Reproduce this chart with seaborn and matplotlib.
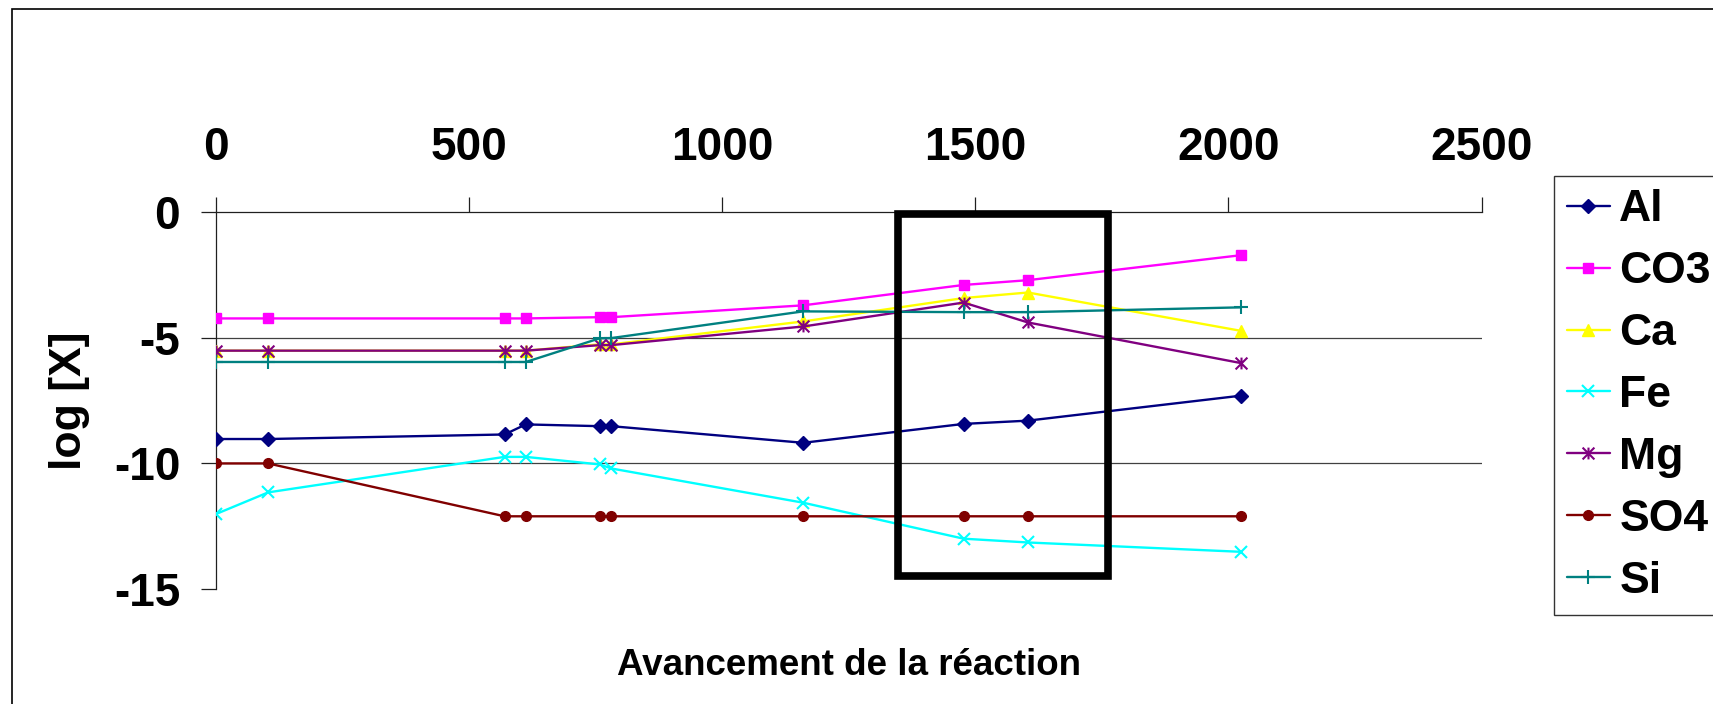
import matplotlib
matplotlib.use("Agg")
import matplotlib.pyplot as plt
import seaborn as sns
import pandas as pd
from matplotlib.path import Path
from matplotlib.patches import Rectangle

# Reaction progress (x) and log concentrations of each species
avancement = [0, 103, 570, 612, 758, 781, 1160, 1477, 1604, 2024]

log_al = [-9.03, -9.03, -8.85, -8.45, -8.52, -8.52, -9.18, -8.43, -8.30, -7.31]
log_co3 = [-4.24, -4.24, -4.24, -4.24, -4.19, -4.19, -3.72, -2.91, -2.72, -1.73]
log_ca = [-5.52, -5.52, -5.52, -5.52, -5.27, -5.27, -4.36, -3.43, -3.21, -4.73]
log_fe = [-12.01, -11.15, -9.74, -9.74, -10.04, -10.20, -11.56, -12.99, -13.14, -13.51]
log_mg = [-5.52, -5.52, -5.52, -5.52, -5.30, -5.30, -4.56, -3.61, -4.40, -6.01]
log_so4 = [-10.0, -10.0, -12.1, -12.1, -12.1, -12.1, -12.1, -12.1, -12.1, -12.1]
log_si = [-5.97, -5.97, -5.97, -5.97, -5.03, -5.02, -3.96, -3.99, -3.99, -3.80]

species = ["Al", "CO3", "Ca", "Fe", "Mg", "SO4", "Si"]
series = [log_al, log_co3, log_ca, log_fe, log_mg, log_so4, log_si]

x_ticks = [0, 500, 1000, 1500, 2000, 2500]
y_ticks = [-15, -10, -5, 0]

# Highlighted zone of the reaction path
zone_x = [1348, 1763]
zone_y = [-14.49, -0.09]

# Excel-style asterisk marker: an X crossed by a vertical bar
star = Path([(-1, -1), (1, 1), (-1, 1), (1, -1), (0, -1), (0, 1)],
            [Path.MOVETO, Path.LINETO] * 3)

styles = {
    "Al": dict(color="#000080", marker="D", ms=7.0, mew=1.0),
    "CO3": dict(color="#FF00FF", marker="s", ms=7.0, mew=1.0),
    "Ca": dict(color="#FFFF00", marker="^", ms=8.0, mew=1.0),
    "Fe": dict(color="#00FFFF", marker="x", ms=8.0, mew=1.5),
    "Mg": dict(color="#800080", marker=star, ms=8.5, mew=1.5),
    "SO4": dict(color="#800000", marker="o", ms=7.0, mew=1.0),
    "Si": dict(color="#008080", marker="+", ms=9.5, mew=1.5),
}

sns.set_style("white")
plt.rcParams["font.family"] = ["Liberation Sans", "DejaVu Sans"]
plt.rcParams["font.weight"] = "bold"
plt.rcParams["axes.unicode_minus"] = False
for key in ["text.color", "axes.labelcolor", "xtick.color", "ytick.color"]:
    plt.rcParams[key] = "black"

W, H = 1713, 704
fig = plt.figure(figsize=(W / 100, H / 100), dpi=100)
ax_left, ax_right, ax_top, ax_bottom = 216, 1481.5, 211.7, 589.3
ax = fig.add_axes([ax_left / W, 1 - ax_bottom / H,
                   (ax_right - ax_left) / W, (ax_bottom - ax_top) / H])

# Horizontal guide lines at the inner y ticks
for yv in y_ticks[1:-1]:
    ax.axhline(yv, color="#404040", lw=0.9, zorder=0.5)

handles = []
for name, vals in zip(species, series):
    st = styles[name]
    df = pd.DataFrame({"avancement": avancement, "logX": vals})
    sns.lineplot(data=df, x="avancement", y="logX", ax=ax,
                 color=st["color"], marker=st["marker"], ms=st["ms"],
                 mec=st["color"], mfc=st["color"], mew=st["mew"],
                 lw=1.7, sort=False, estimator=None, legend=False, zorder=3)
    line = ax.lines[-1]
    line.set_label(name)
    handles.append(line)

ax.add_patch(Rectangle((zone_x[0], zone_y[0]), zone_x[1] - zone_x[0],
                       zone_y[1] - zone_y[0], fill=False, ec="black",
                       lw=5.5, joinstyle="miter", clip_on=False, zorder=6))

ax.set_xlim(x_ticks[0], x_ticks[-1])
ax.set_ylim(y_ticks[0], y_ticks[-1])
ax.set_xticks(x_ticks)
ax.set_yticks(y_ticks)

for side in ["right", "bottom"]:
    ax.spines[side].set_visible(False)
for side in ["top", "left"]:
    ax.spines[side].set_color("#202020")
    ax.spines[side].set_linewidth(0.9)

ax.tick_params(axis="x", top=True, bottom=False, labeltop=True,
               labelbottom=False, direction="out", length=10.8, width=0.9,
               color="#202020", labelcolor="black", pad=19, labelsize=33)
ax.tick_params(axis="y", left=True, direction="out", length=10.8, width=0.9,
               color="#202020", labelcolor="black", pad=15, labelsize=33)
for lab in ax.get_xticklabels() + ax.get_yticklabels():
    lab.set_fontweight("bold")

ax.set_xlabel("Avancement de la réaction", fontsize=26.5, fontweight="bold",
              color="black")
ax.xaxis.set_label_position("bottom")
ax.xaxis.set_label_coords(0.5, (ax_bottom - 675) / (ax_bottom - ax_top))
ax.xaxis.label.set_va("baseline")

ax.set_ylabel("log [X]", fontsize=32, fontweight="bold", color="black")
ax.yaxis.set_label_coords((69 - ax_left) / (ax_right - ax_left), 0.5)
ax.yaxis.label.set_va("center")

leg = ax.legend(handles, species, loc="upper left",
                bbox_to_anchor=(1554 / W, 1 - 176 / H),
                bbox_transform=fig.transFigure, borderaxespad=0,
                frameon=True, fancybox=False, shadow=False,
                prop=dict(weight="bold", size=32), handlelength=0.95,
                handletextpad=0.22, labelspacing=0.47, borderpad=0.3)
leg.get_frame().set_edgecolor("black")
leg.get_frame().set_linewidth(1.0)
for txt in leg.get_texts():
    txt.set_color("black")

# Chart-area border
fig.patches.append(Rectangle((12 / W, -0.05), 1.1, (1 - 9 / H) + 0.05,
                             transform=fig.transFigure, fill=False,
                             ec="black", lw=1.2))

fig.savefig("out.png", dpi=100)
